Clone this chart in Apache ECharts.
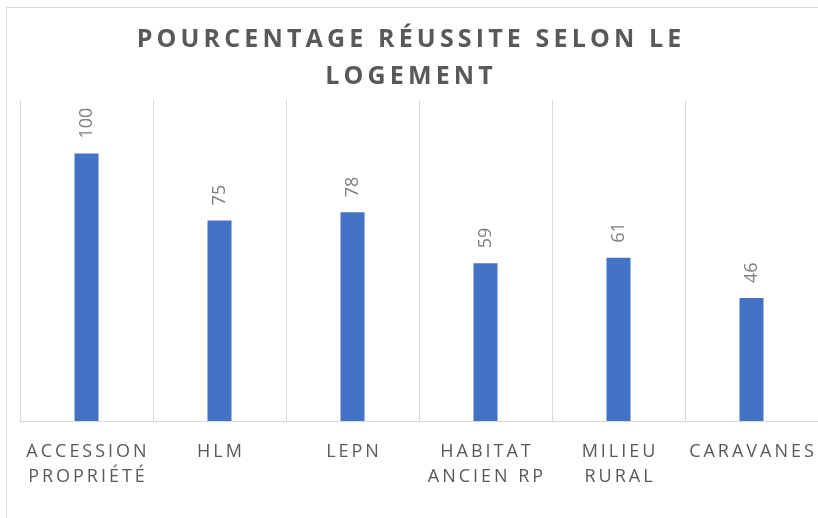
<!DOCTYPE html>
<html>
<head>
<meta charset="utf-8">
<script src="https://cdn.jsdelivr.net/npm/echarts@6/dist/echarts.min.js"></script>
<style>
  html, body { margin: 0; padding: 0; background: #fff; }
  #chart { width: 818px; height: 518px; }
</style>
</head>
<body>
<div id="chart"></div>
<script>
var categories = ['ACCESSION\nPROPRIÉTÉ', 'HLM', 'LEPN', 'HABITAT\nANCIEN RP', 'MILIEU\nRURAL', 'CARAVANES'];
var values = [100, 75, 78, 59, 61, 46];
var titleText = 'POURCENTAGE RÉUSSITE SELON LE\nLOGEMENT';

// espacement des lettres (pas de letterSpacing dans echarts)
function spaced(s, sp) {
    return s.split('\n').map(function (line) {
        return line.split('').join(sp);
    }).join('\n');
}

var myChart = echarts.init(document.getElementById('chart'));
var option = {
    animation: false,
    title: {
        text: spaced(titleText, '\u2009'),
        left: 'center',
        top: 16,
        textStyle: {
            fontFamily: 'Open Sans',
            fontWeight: 'bold',
            fontSize: 25,
            lineHeight: 37,
            color: '#595959'
        }
    },
    graphic: [{
        type: 'rect',
        shape: {x: 6.5, y: 7.5, width: 830, height: 530},
        style: {fill: 'none', stroke: '#d9d9d9', lineWidth: 1},
        silent: true
    }],
    grid: {left: 20, right: 0, top: 100, bottom: 97},
    xAxis: {
        type: 'category',
        data: categories,
        axisTick: {show: false},
        axisLine: {lineStyle: {color: '#d9d9d9', width: 1}},
        splitLine: {show: true, lineStyle: {color: '#d9d9d9', width: 1}},
        axisLabel: {
            interval: 0,
            margin: 18,
            fontFamily: 'Open Sans',
            fontSize: 18,
            lineHeight: 25,
            color: '#595959',
            formatter: function (v) { return spaced(v, '\u2009'); }
        }
    },
    yAxis: {
        type: 'value',
        min: 0,
        max: 120,
        show: false,
        splitLine: {show: false}
    },
    series: [{
        type: 'bar',
        data: values,
        barWidth: 24,
        itemStyle: {color: '#4472c4'},
        label: {
            show: true,
            position: 'top',
            distance: 15,
            rotate: 90,
            align: 'left',
            verticalAlign: 'middle',
            fontFamily: 'Open Sans',
            fontSize: 18,
            color: '#7f7f7f'
        }
    }]
};
myChart.setOption(option);
</script>
</body>
</html>
